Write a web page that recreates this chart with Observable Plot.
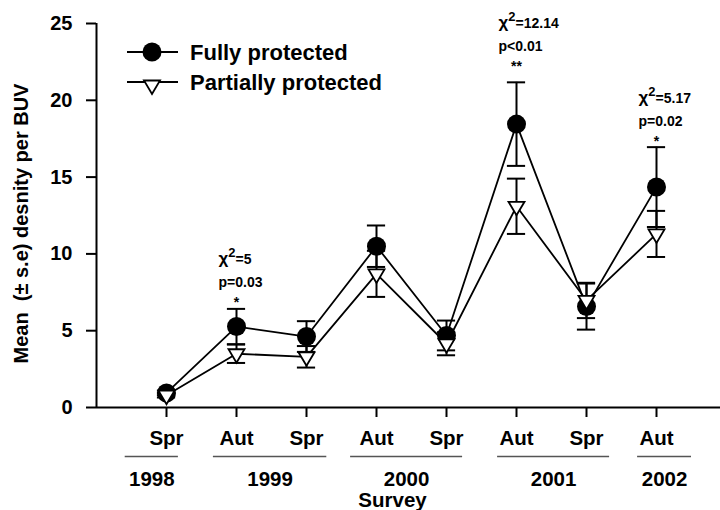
<!DOCTYPE html>
<html><head><meta charset="utf-8">
<script src="https://cdn.jsdelivr.net/npm/d3@7"></script>
<script src="https://cdn.jsdelivr.net/npm/@observablehq/plot@0.6"></script>
<style>body{margin:0;background:#fff} #chart{width:720px;height:510px}</style>
</head><body><div id="chart"></div>
<script>
// ---- data ----
const surveys = ["Spr","Aut","Spr","Aut","Spr","Aut","Spr","Aut"];
const yearNames = ["1998","1999","2000","2001","2002"];
const yearStart = [0.41, 1.67, 3.63, 5.73, 7.73];   // extent of year underline, in survey-index units
const yearEnd   = [1.17, 3.29, 5.23, 7.33, 8.50];
const fullyMean   = [0.95, 5.27, 4.62, 10.5, 4.69, 18.45, 6.57, 14.35];
const fullySE     = [0.15, 1.15, 1.00, 1.35, 0.97, 2.72, 1.50, 2.60];
const partialMean = [0.80, 3.50, 3.30, 8.70, 4.15, 13.10, 6.97, 11.30];
const partialSE   = [0.15, 0.60, 0.70, 1.50, 0.75, 1.80, 1.15, 1.50];
const yTicks = [0, 5, 10, 15, 20, 25];
const annotIndex = [2, 6, 8];
const annotY = [6.42, 21.8, 16.9];
const annotChi = ["=5", "=12.14", "=5.17"];
const annotP = ["p=0.03", "p<0.01", "p=0.02"];
const annotStars = ["*", "**", "*"];
const seriesNames = ["Fully protected", "Partially protected"];
const yLabel = "Mean\u00a0 (± s.e) desnity per BUV";
const xLabel = "Survey";

// ---- tables ----
const fully = fullyMean.map((m, k) => ({i: k + 1, mean: m, lo: m - fullySE[k], hi: m + fullySE[k]}));
const partial = partialMean.map((m, k) => ({i: k + 1, mean: m, lo: m - partialSE[k], hi: m + partialSE[k]}));
const cats = surveys.map((s, k) => ({i: k + 1, s}));
const groups = yearNames.map((y, k) => ({year: y, a: yearStart[k], b: yearEnd[k]}));
const annots = annotIndex.map((i, k) => ({i, y: annotY[k], chi: "χ²" + annotChi[k], p: annotP[k], star: annotStars[k]}));

const triDown = {draw(ctx) { const w = 8, h = 13.5; ctx.moveTo(-w, -h / 3); ctx.lineTo(w, -h / 3); ctx.lineTo(0, 2 * h / 3); ctx.closePath(); }};
const capW = 0.13;
const errMarks = (rows) => [
  Plot.ruleX(rows, {x: "i", y1: "lo", y2: "hi", strokeWidth: 2}),
  Plot.ruleY(rows, {y: "hi", x1: d => d.i - capW, x2: d => d.i + capW, strokeWidth: 2}),
  Plot.ruleY(rows, {y: "lo", x1: d => d.i - capW, x2: d => d.i + capW, strokeWidth: 2})
];

const chart = Plot.plot({
  width: 720, height: 510,
  marginLeft: 96, marginRight: 0, marginTop: 23, marginBottom: 103,
  x: {domain: [0, 624 / 70]},
  y: {domain: [0, 25]},
  style: {fontFamily: "'Liberation Sans', Arial, sans-serif", fontWeight: "bold", color: "black", background: "white", overflow: "visible"},
  marks: [
    Plot.axisY({ticks: yTicks, tickSize: 10, tickPadding: 14, fontSize: 20, strokeWidth: 2, label: null}),
    Plot.axisX({ticks: cats.map(d => d.i), tickSize: 10, tickFormat: () => "", strokeWidth: 2, label: null}),
    Plot.ruleX([0], {y1: 0, y2: 25, strokeWidth: 2}),
    Plot.ruleY([0], {strokeWidth: 2}),
    Plot.line(partial, {x: "i", y: "mean", strokeWidth: 1.8}),
    Plot.line(fully, {x: "i", y: "mean", strokeWidth: 1.8}),
    ...errMarks(partial),
    ...errMarks(fully),
    Plot.dot(fully, {x: "i", y: "mean", r: 9.5, fill: "black", stroke: null}),
    Plot.dot(partial, {x: "i", y: "mean", symbol: triDown, fill: "white", stroke: "black", strokeWidth: 1.8}),
    Plot.text(annots, {x: "i", y: "y", text: "chi", textAnchor: "start", dx: -18, dy: -49, fontSize: 14, className: "chi"}),
    Plot.text(annots, {x: "i", y: "y", text: "p", textAnchor: "start", dx: -18, dy: -26, fontSize: 14}),
    Plot.text(annots, {x: "i", y: "y", text: "star", dy: -6, fontSize: 14}),
    Plot.text(cats, {x: "i", y: () => 0, text: "s", dy: 31, fontSize: 20.5}),
    Plot.ruleY(groups, {y: () => 0, x1: "a", x2: "b", dy: 49, stroke: "#555", strokeWidth: 1.3}),
    Plot.text(groups, {x: d => (d.a + d.b) / 2, y: () => 0, text: "year", dy: 72, fontSize: 20.5}),
    Plot.text([xLabel], {frameAnchor: "bottom", textAnchor: "middle", lineAnchor: "middle", dx: -16, dy: 93, fontSize: 20.5}),
    Plot.text([yLabel], {frameAnchor: "left", textAnchor: "middle", lineAnchor: "middle", rotate: -90, dx: -75, dy: 8, fontSize: 20})
  ]
});
document.getElementById("chart").append(chart);

// chi-square labels: larger chi with a raised 2
d3.select(chart).selectAll("g.chi text").each(function () {
  const t = this.textContent;
  if (!t.startsWith("χ²")) return;
  const rest = t.slice(2);
  const el = d3.select(this).text(null);
  el.append("tspan").attr("font-size", 17).text("χ");
  el.append("tspan").attr("font-size", 13).attr("dy", -7).text("2");
  el.append("tspan").attr("dy", 7).text(rest);
});

// ---- legend (pixel layout inside the SVG) ----
const svg = d3.select(chart);
const lg = svg.append("g").attr("font-size", 22).attr("font-weight", "bold").attr("fill", "black").attr("text-anchor", "start");
[52, 82].forEach((y, k) => {
  lg.append("line").attr("x1", 127).attr("x2", 178).attr("y1", y).attr("y2", y).attr("stroke", "black").attr("stroke-width", 1.8);
  if (k === 0) lg.append("circle").attr("cx", 152).attr("cy", y).attr("r", 9.5).attr("fill", "black");
  else lg.append("path").attr("transform", `translate(152,${y + 3})`).attr("d", d3.line()([[-8, -4.5], [8, -4.5], [0, 9]]) + "Z").attr("fill", "white").attr("stroke", "black").attr("stroke-width", 1.8);
  lg.append("text").attr("x", 190).attr("y", y).attr("dy", "0.35em").text(seriesNames[k]);
});
</script>
</body></html>
